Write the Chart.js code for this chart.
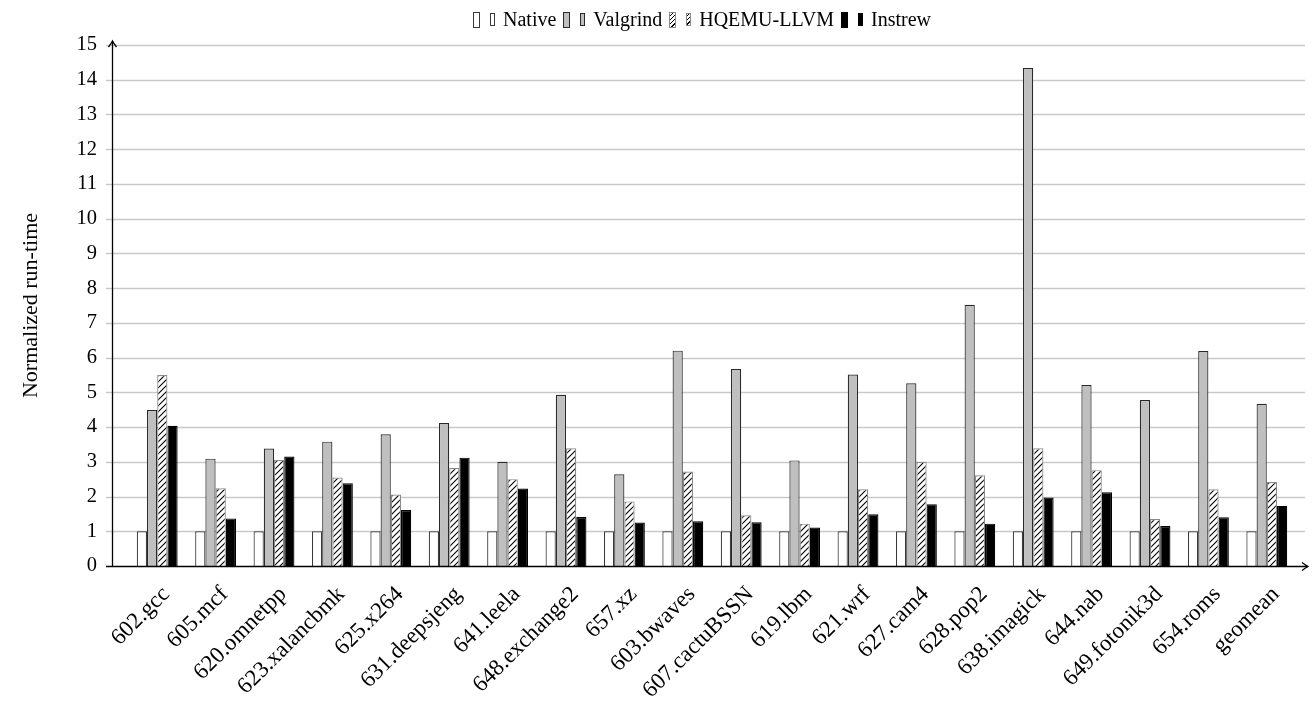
<!DOCTYPE html>
<html>
<head>
<meta charset="utf-8">
<script src="https://cdn.jsdelivr.net/npm/chart.js@4/dist/chart.umd.min.js"></script>
<style>
  html, body { margin: 0; padding: 0; background: #fff; }
  #wrap { position: relative; width: 1312px; height: 717px; }
  #legend {
    position: absolute; top: 8px; left: 473px;
    display: flex; align-items: center;
    font-family: "Liberation Serif", "DejaVu Serif", serif; font-size: 20px; color: #000;
    white-space: nowrap;
  }
  #legend .item { display: flex; align-items: center; margin-right: 7px; }
  #legend .b1 { width: 5px; height: 14px; margin-right: 10px; box-sizing: content-box; }
  #legend .b2 { width: 3px; height: 11px; margin-right: 8px; box-sizing: content-box; }
</style>
</head>
<body>
<div id="wrap">
  <canvas id="chart" width="1312" height="717"></canvas>
  <div id="legend"></div>
</div>
<script>
// Benchmarks (SPEC CPU 2017) and normalized run-times
const benchmarks = ['602.gcc', '605.mcf', '620.omnetpp', '623.xalancbmk', '625.x264',
  '631.deepsjeng', '641.leela', '648.exchange2', '657.xz', '603.bwaves', '607.cactuBSSN',
  '619.lbm', '621.wrf', '627.cam4', '628.pop2', '638.imagick', '644.nab', '649.fotonik3d',
  '654.roms', 'geomean'];

const native   = [1, 1, 1, 1, 1, 1, 1, 1, 1, 1, 1, 1, 1, 1, 1, 1, 1, 1, 1, 1];
const valgrind = [4.49, 3.09, 3.38, 3.58, 3.79, 4.12, 3.00, 4.93, 2.64, 6.20,
                  5.67, 3.04, 5.51, 5.26, 7.52, 14.34, 5.21, 4.78, 6.19, 4.67];
const hqemu    = [5.50, 2.24, 3.05, 2.55, 2.06, 2.82, 2.50, 3.39, 1.86, 2.72,
                  1.46, 1.22, 2.21, 3.00, 2.61, 3.39, 2.76, 1.35, 2.21, 2.42];
const instrew  = [4.04, 1.37, 3.15, 2.38, 1.61, 3.12, 2.23, 1.41, 1.25, 1.29,
                  1.26, 1.11, 1.49, 1.78, 1.22, 1.97, 2.12, 1.15, 1.40, 1.73];

const yTicks = [0, 1, 2, 3, 4, 5, 6, 7, 8, 9, 10, 11, 12, 13, 14, 15];

const FONT = '"Liberation Serif", "DejaVu Serif", serif';
const AXIS_X = 112;     // where the y axis line sits
const AXIS_END = 1308;  // tip of the x axis arrow

// north-east hatching
function hatchPattern() {
  const c = document.createElement('canvas');
  c.width = 6; c.height = 6;
  const g = c.getContext('2d');
  g.fillStyle = '#fff';
  g.fillRect(0, 0, 6, 6);
  g.strokeStyle = '#000';
  g.lineWidth = 1.1;
  g.beginPath();
  g.moveTo(0, 6); g.lineTo(6, 0);
  g.moveTo(-1, 1); g.lineTo(1, -1);
  g.moveTo(5, 7); g.lineTo(7, 5);
  g.stroke();
  return g.createPattern(c, 'repeat');
}
const HATCH = hatchPattern();

const series = [
  { label: 'Native',      data: native,   bg: '#ffffff', border: '#3a3a3a', css: '#fff' },
  { label: 'Valgrind',    data: valgrind, bg: '#bfbfbf', border: '#2a2a2a', css: '#bfbfbf' },
  { label: 'HQEMU-LLVM',  data: hqemu,    bg: HATCH,     border: '#8a8a8a',
    css: 'repeating-linear-gradient(-45deg, #fff 0 2px, #000 2px 3px)' },
  { label: 'Instrew',     data: instrew,  bg: '#000000', border: '#000000', css: '#000' },
];

// gridlines, y axis tick marks, and the two arrowed axes
const axesPlugin = {
  id: 'axes',
  beforeDatasetsDraw(chart) {
    const { ctx, scales: { y } } = chart;
    ctx.save();
    ctx.strokeStyle = '#c9c9c9';
    ctx.lineWidth = 1.3;
    yTicks.forEach(v => {
      if (v === 0) return;
      const py = Math.round(y.getPixelForValue(v)) + 0.5;
      ctx.beginPath();
      ctx.moveTo(AXIS_X - 6, py);
      ctx.lineTo(AXIS_END - 3, py);
      ctx.stroke();
    });
    ctx.restore();
  },
  afterDatasetsDraw(chart) {
    const { ctx, scales: { y } } = chart;
    const y0 = Math.round(y.getPixelForValue(0)) + 0.5;
    const yTop = y.getPixelForValue(15) - 4;
    const x0 = AXIS_X + 0.5;
    ctx.save();
    ctx.strokeStyle = '#000';
    ctx.lineWidth = 1.3;
    ctx.beginPath();
    ctx.moveTo(AXIS_X - 6, y0);
    ctx.lineTo(AXIS_END, y0);
    ctx.moveTo(x0, y0);
    ctx.lineTo(x0, yTop);
    ctx.stroke();
    // arrow tips
    ctx.beginPath();
    ctx.moveTo(AXIS_END - 6, y0 - 4);
    ctx.quadraticCurveTo(AXIS_END - 2, y0 - 1, AXIS_END, y0);
    ctx.quadraticCurveTo(AXIS_END - 2, y0 + 1, AXIS_END - 6, y0 + 4);
    ctx.moveTo(x0 - 4, yTop + 6);
    ctx.quadraticCurveTo(x0 - 1, yTop + 2, x0, yTop);
    ctx.quadraticCurveTo(x0 + 1, yTop + 2, x0 + 4, yTop + 6);
    ctx.stroke();
    ctx.restore();
  }
};

new Chart(document.getElementById('chart'), {
  type: 'bar',
  data: {
    labels: benchmarks,
    datasets: series.map(s => ({
      label: s.label,
      data: s.data,
      backgroundColor: s.bg,
      borderColor: s.border,
      borderWidth: 1.2,
      borderSkipped: 'bottom',
      barPercentage: 1,
      categoryPercentage: 0.7,
    }))
  },
  options: {
    responsive: false,
    animation: false,
    devicePixelRatio: 1,
    layout: { padding: { top: 45, right: 16, left: 0, bottom: 0 } },
    plugins: { legend: { display: false }, tooltip: { enabled: false } },
    scales: {
      x: {
        offset: true,
        grid: { display: false, drawTicks: false },
        border: { display: false },
        ticks: {
          autoSkip: false,
          minRotation: 45,
          maxRotation: 45,
          padding: 15,
          labelOffset: 9,
          color: '#000',
          font: { family: FONT, size: 23 },
        },
        afterFit(scale) { scale.height = 151; },
      },
      y: {
        min: 0,
        max: 15,
        grid: { display: false, drawTicks: false },
        border: { display: false },
        ticks: {
          stepSize: 1,
          padding: 31,
          color: '#000',
          font: { family: FONT, size: 20.5 },
        },
        title: {
          display: true,
          text: 'Normalized run-time',
          color: '#000',
          font: { family: FONT, size: 22 },
          padding: { top: 18, bottom: 0 },
        },
        afterFit(scale) { scale.width = 128; },
      }
    }
  },
  plugins: [axesPlugin]
});

// legend: two small swatches per entry, then the name
const legend = document.getElementById('legend');
series.forEach(s => {
  const item = document.createElement('div');
  item.className = 'item';
  ['b1', 'b2'].forEach(cls => {
    const b = document.createElement('span');
    b.className = cls;
    b.style.background = s.css;
    b.style.border = '1px solid ' + s.border;
    item.appendChild(b);
  });
  const t = document.createElement('span');
  t.textContent = s.label;
  item.appendChild(t);
  legend.appendChild(item);
});
</script>
</body>
</html>
